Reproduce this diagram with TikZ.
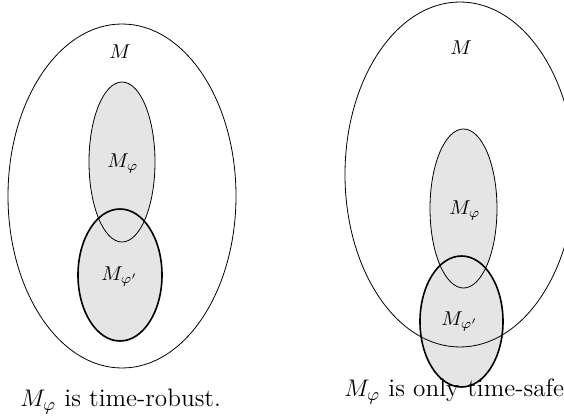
\documentclass[tikz,border=0pt]{standalone}
\begin{document}
\begin{tikzpicture}[x=0.5pt,y=-0.5pt,
  setfill/.style={fill=gray!20},
  thinline/.style={line width=0.4pt},
  thickline/.style={line width=0.8pt},
  lbl/.style={font=\normalsize, inner sep=0pt, anchor=base west},
  captext/.style={font=\fontsize{12.6}{15}\selectfont, inner sep=0pt, anchor=base west}]
\clip (0,0) rectangle (564,417);
% ---- left figure ----
\fill[setfill] (122,162) ellipse [x radius=33, y radius=80];
\fill[setfill] (120,275) ellipse [x radius=42, y radius=66];
\draw[thinline] (122,196) ellipse [x radius=114, y radius=172];
\draw[thinline] (122,162) ellipse [x radius=33, y radius=80];
\draw[thickline] (120,275) ellipse [x radius=42, y radius=66];
\node[lbl] (LM) at (109,59) {$M$};
\node[lbl] (LMp) at (107,167.5) {$M_\varphi$};
\node[lbl] (LMpp) at (101,281) {$M_{\varphi'}$};
\node[captext] (Lcap) at (20,406.5) {$M_\varphi$ is time-robust.};
% ---- right figure ----
\fill[setfill] (463.5,208.5) ellipse [x radius=33.5, y radius=79.5];
\fill[setfill] (461.5,321.5) ellipse [x radius=41.5, y radius=65.5];
\draw[thinline] (460,174.5) ellipse [x radius=115, y radius=172.5];
\draw[thinline] (463.5,208.5) ellipse [x radius=33.5, y radius=79.5];
\draw[thickline] (461.5,321.5) ellipse [x radius=41.5, y radius=65.5];
\node[lbl] (RM) at (450,55) {$M$};
\node[lbl] (RMp) at (449,215) {$M_\varphi$};
\node[lbl] (RMpp) at (441,326) {$M_{\varphi'}$};
\node[captext] (Rcap) at (344,397) {$M_\varphi$ is only time-safe.};
\end{tikzpicture}
\end{document}
